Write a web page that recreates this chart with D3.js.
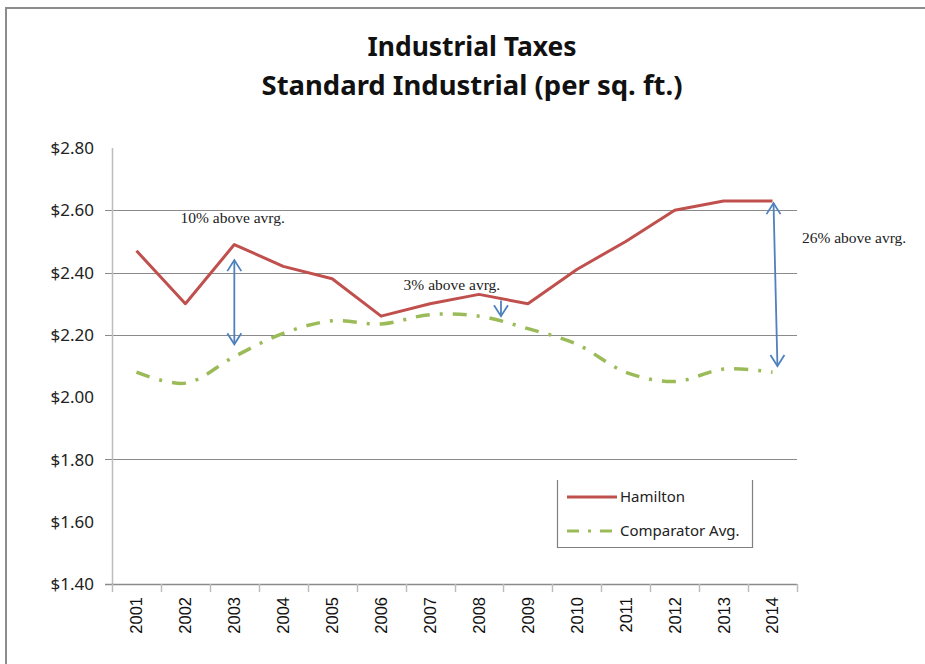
<!DOCTYPE html>
<html>
<head>
<meta charset="utf-8">
<script src="https://cdnjs.cloudflare.com/ajax/libs/d3/7.8.5/d3.min.js"></script>
<style>
  body { margin: 0; background: #fff; }
  svg { display: block; }
</style>
</head>
<body>
<div id="chart"></div>
<script>
var width = 925;
var height = 664;

// Data
var years = ["2001", "2002", "2003", "2004", "2005", "2006", "2007",
             "2008", "2009", "2010", "2011", "2012", "2013", "2014"];
var hamilton = [2.47, 2.30, 2.49, 2.42, 2.38, 2.26, 2.30,
                2.33, 2.30, 2.41, 2.50, 2.60, 2.63, 2.63];
var comparator = [2.08, 2.045, 2.13, 2.205, 2.245, 2.235, 2.265,
                  2.26, 2.22, 2.17, 2.08, 2.05, 2.09, 2.08];
var yTicks = [1.4, 1.6, 1.8, 2.0, 2.2, 2.4, 2.6, 2.8];
var gridTicks = [1.8, 2.2, 2.4, 2.6];
var seriesNames = ["Hamilton", "Comparator Avg."];

// annotations (year position, value)
var noteText = ["10% above avrg.", "3% above avrg.", "26% above avrg."];
var noteYear = [2001.9, 2006.46, 2014.6];
var noteValue = [2.56, 2.345, 2.495];
var arrowYear = [[2003, 2003], [2008.45, 2008.45], [2014.02, 2014.1]];
var arrowValue = [[2.44, 2.17], [2.31, 2.26], [2.623, 2.10]];
var arrowBoth = [true, false, true];

var margin = {left: 112, right: 130, top: 148, bottom: 80};

var svg = d3.select("#chart")
  .append("svg")
  .attr("width", width)
  .attr("height", height);

// outer chart border
svg.append("rect")
  .attr("x", 6).attr("y", 8)
  .attr("width", 960).attr("height", 700)
  .attr("fill", "#fff")
  .attr("stroke", "#8c8c8c")
  .attr("stroke-width", 2);

var x = d3.scaleBand()
  .domain(years)
  .range([margin.left, width - margin.right + 2]);
var xl = d3.scaleLinear()
  .domain([2000.5, 2014.5])
  .range(x.range());
var y = d3.scaleLinear()
  .domain([1.4, 2.8])
  .range([height - margin.bottom, margin.top]);

// title
var title = svg.append("g").attr("font-family", "'Noto Sans', sans-serif")
  .attr("font-weight", "bold").attr("fill", "#111")
  .attr("text-anchor", "middle");
title.append("text").attr("x", 472).attr("y", 56)
  .attr("font-size", 27).attr("textLength", 209)
  .attr("lengthAdjust", "spacingAndGlyphs").text("Industrial Taxes");
title.append("text").attr("x", 472).attr("y", 95)
  .attr("font-size", 27).attr("textLength", 421)
  .attr("lengthAdjust", "spacingAndGlyphs").text("Standard Industrial (per sq. ft.)");

// gridlines
svg.append("g").selectAll("line")
  .data(gridTicks)
  .enter().append("line")
    .attr("x1", margin.left - 7)
    .attr("x2", x.range()[1])
    .attr("y1", function(d) { return Math.round(y(d)) + 0.5; })
    .attr("y2", function(d) { return Math.round(y(d)) + 0.5; })
    .attr("stroke", "#8a8a8a");

// y axis
svg.append("line")
  .attr("x1", margin.left + 0.5).attr("x2", margin.left + 0.5)
  .attr("y1", y(2.8)).attr("y2", y(1.4))
  .attr("stroke", "#bdbdbd").attr("stroke-width", 1.5);
svg.append("g").selectAll("text")
  .data(yTicks)
  .enter().append("text")
    .attr("x", 94)
    .attr("y", function(d) { return y(d); })
    .attr("dy", "0.36em")
    .attr("text-anchor", "end")
    .attr("font-family", "'Noto Sans', sans-serif")
    .attr("font-size", 17)
    .attr("fill", "#222")
    .text(function(d) { return "$" + d.toFixed(2); });

// x axis
var gx = svg.append("g")
  .attr("transform", "translate(0," + Math.round(y(1.4)) + ")");
gx.append("line")
  .attr("x1", margin.left - 7).attr("x2", x.range()[1])
  .attr("y1", 0.5).attr("y2", 0.5)
  .attr("stroke", "#8a8a8a").attr("stroke-width", 1.5);
gx.selectAll(".tk")
  .data(d3.range(years.length + 1))
  .enter().append("line")
    .attr("x1", function(i) { return Math.round(xl(2000.5 + i)) + 0.5; })
    .attr("x2", function(i) { return Math.round(xl(2000.5 + i)) + 0.5; })
    .attr("y1", 0).attr("y2", 8)
    .attr("stroke", "#bdbdbd").attr("stroke-width", 1.5);
gx.selectAll(".lbl")
  .data(years)
  .enter().append("text")
    .attr("transform", function(d) {
      return "translate(" + (x(d) + x.bandwidth() / 2) + ",13) rotate(-90)";
    })
    .attr("dy", "0.36em")
    .attr("text-anchor", "end")
    .attr("font-family", "'Liberation Sans', sans-serif")
    .attr("font-size", 16.5)
    .attr("fill", "#111")
    .text(function(d) { return d; });

// lines
var line = d3.line()
  .x(function(d, i) { return x(years[i]) + x.bandwidth() / 2; })
  .y(function(d) { return y(d); });

svg.append("path")
  .datum(comparator)
  .attr("fill", "none")
  .attr("stroke", "#9bbb59")
  .attr("stroke-width", 3.5)
  .attr("stroke-dasharray", "14,10,3,10")
  .attr("d", line.curve(d3.curveCatmullRom.alpha(0.5)));

svg.append("path")
  .datum(hamilton)
  .attr("fill", "none")
  .attr("stroke", "#c0504d")
  .attr("stroke-width", 3)
  .attr("stroke-linejoin", "round")
  .attr("d", line.curve(d3.curveLinear));

// arrows
function head(g, px, py, dir) {
  // open V arrow head, dir = -1 pointing up, 1 pointing down
  g.append("path")
    .attr("d", "M" + (px - 7) + "," + (py - dir * 11) + "L" + px + "," + py +
               "L" + (px + 7) + "," + (py - dir * 11))
    .attr("fill", "none")
    .attr("stroke", "#4f81bd")
    .attr("stroke-width", 1.8);
}
var arrows = svg.append("g");
arrowYear.forEach(function(ay, i) {
  var x1 = xl(ay[0]), x2 = xl(ay[1]);
  var y1 = y(arrowValue[i][0]), y2 = y(arrowValue[i][1]);
  arrows.append("line")
    .attr("x1", x1).attr("y1", y1)
    .attr("x2", x2).attr("y2", y2)
    .attr("stroke", "#4f81bd")
    .attr("stroke-width", 1.8);
  head(arrows, x2, y2, 1);
  if (arrowBoth[i]) head(arrows, x1, y1, -1);
});

// annotation text
svg.append("g").selectAll("text")
  .data(noteText)
  .enter().append("text")
    .attr("x", function(d, i) { return xl(noteYear[i]); })
    .attr("y", function(d, i) { return y(noteValue[i]); })
    .attr("font-family", "'Liberation Serif', serif")
    .attr("font-size", 15.5)
    .attr("fill", "#222")
    .text(function(d) { return d; });

// legend
var lg = svg.append("g").attr("transform", "translate(557,480)");
lg.append("path")
  .attr("d", "M0.5,0V67.5H195.5V0")
  .attr("fill", "none")
  .attr("stroke", "#7f7f7f")
  .attr("stroke-width", 1.2);
var legendColors = ["#c0504d", "#9bbb59"];
var legendDash = [null, "12,9,3,9"];
seriesNames.forEach(function(name, i) {
  var ly = 17 + i * 34;
  lg.append("line")
    .attr("x1", 10).attr("x2", 60)
    .attr("y1", ly).attr("y2", ly)
    .attr("stroke", legendColors[i])
    .attr("stroke-width", 3)
    .attr("stroke-dasharray", legendDash[i]);
  lg.append("text")
    .attr("x", 63).attr("y", ly)
    .attr("dy", "0.36em")
    .attr("font-family", "'Noto Sans', sans-serif")
    .attr("font-size", 15)
    .attr("fill", "#222")
    .text(name);
});
</script>
</body>
</html>
